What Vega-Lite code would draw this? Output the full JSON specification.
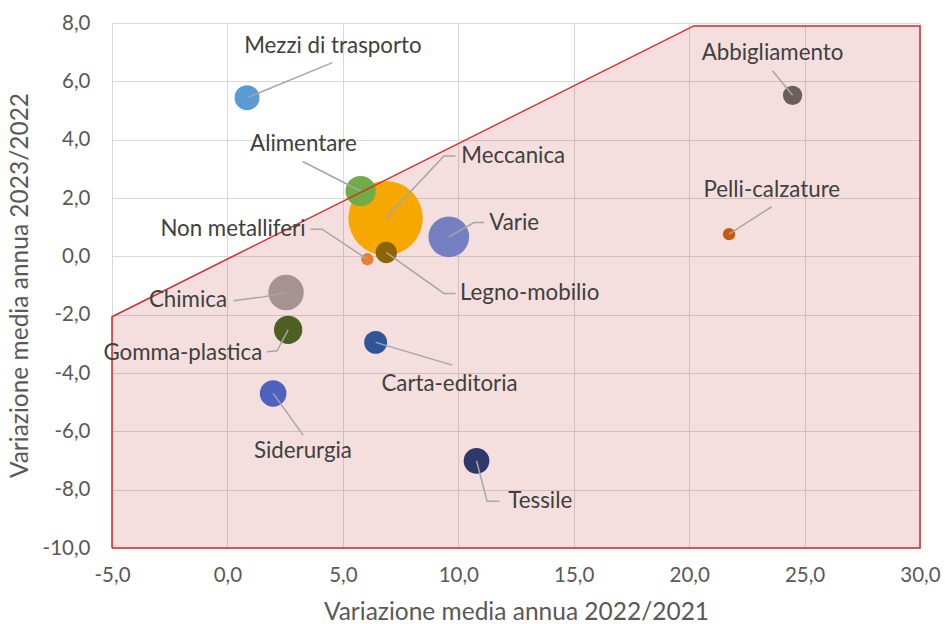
{
  "$schema": "https://vega.github.io/schema/vega-lite/v6.json",
  "width": 808,
  "height": 525,
  "autosize": {"type": "none"},
  "padding": {"left": 112, "top": 23, "right": 25, "bottom": 76},
  "background": "white",
  "config": {
    "locale": {"number": {"decimal": ",", "thousands": ".", "grouping": [3], "currency": ["€", ""], "minus": "-"}},
    "view": {"stroke": null},
    "font": "Lato",
    "axis": {
      "domain": false, "ticks": false, "tickSize": 0, "labelFlush": false,
      "gridColor": "#D9D9D9", "gridWidth": 1,
      "labelColor": "#595959", "labelFont": "Lato", "labelFontSize": 20.5,
      "titleColor": "#595959", "titleFont": "Lato", "titleFontSize": 24.5, "titleFontWeight": "normal"
    }
  },
  "datasets": {
    "zona": [
      {"x": -5, "y": -2.07},
      {"x": 20.2, "y": 7.9},
      {"x": 30, "y": 7.9}
    ],
    "bordo": [
      {"ordine": 1, "x": -5, "y": -10},
      {"ordine": 2, "x": -5, "y": -2.07},
      {"ordine": 3, "x": 20.2, "y": 7.9},
      {"ordine": 4, "x": 30, "y": 7.9},
      {"ordine": 5, "x": 30, "y": -10},
      {"ordine": 6, "x": -5, "y": -10}
    ],
    "settori": [
      {"nome": "Non metalliferi", "x": 6.06, "y": -0.10, "peso": 1.1},
      {"nome": "Meccanica", "x": 6.85, "y": 1.31, "peso": 40.1},
      {"nome": "Legno-mobilio", "x": 6.88, "y": 0.13, "peso": 3.3},
      {"nome": "Alimentare", "x": 5.77, "y": 2.24, "peso": 6.6},
      {"nome": "Mezzi di trasporto", "x": 0.85, "y": 5.44, "peso": 4.5},
      {"nome": "Abbigliamento", "x": 24.48, "y": 5.52, "peso": 2.7},
      {"nome": "Pelli-calzature", "x": 21.73, "y": 0.76, "peso": 1.1},
      {"nome": "Varie", "x": 9.59, "y": 0.67, "peso": 12.0},
      {"nome": "Chimica", "x": 2.54, "y": -1.24, "peso": 9.1},
      {"nome": "Gomma-plastica", "x": 2.63, "y": -2.52, "peso": 5.8},
      {"nome": "Carta-editoria", "x": 6.42, "y": -2.95, "peso": 3.8},
      {"nome": "Siderurgia", "x": 1.98, "y": -4.70, "peso": 5.1},
      {"nome": "Tessile", "x": 10.79, "y": -7.01, "peso": 4.8}
    ],
    "richiami": [
      {"nome": "Mezzi di trasporto", "seq": 1, "x": 0.85, "y": 5.44},
      {"nome": "Mezzi di trasporto", "seq": 2, "x": 4.55, "y": 6.64},
      {"nome": "Abbigliamento", "seq": 1, "x": 24.48, "y": 5.52},
      {"nome": "Abbigliamento", "seq": 2, "x": 23.61, "y": 6.36},
      {"nome": "Pelli-calzature", "seq": 1, "x": 21.73, "y": 0.76},
      {"nome": "Pelli-calzature", "seq": 2, "x": 23.57, "y": 1.70},
      {"nome": "Alimentare", "seq": 1, "x": 5.77, "y": 2.24},
      {"nome": "Alimentare", "seq": 2, "x": 3.26, "y": 3.25},
      {"nome": "Meccanica", "seq": 1, "x": 6.85, "y": 1.31},
      {"nome": "Meccanica", "seq": 2, "x": 9.38, "y": 3.44},
      {"nome": "Meccanica", "seq": 3, "x": 9.88, "y": 3.44},
      {"nome": "Varie", "seq": 1, "x": 9.59, "y": 0.67},
      {"nome": "Varie", "seq": 2, "x": 10.68, "y": 1.16},
      {"nome": "Varie", "seq": 3, "x": 11.11, "y": 1.16},
      {"nome": "Non metalliferi", "seq": 1, "x": 6.06, "y": -0.10},
      {"nome": "Non metalliferi", "seq": 2, "x": 4.1, "y": 0.93},
      {"nome": "Non metalliferi", "seq": 3, "x": 3.6, "y": 0.93},
      {"nome": "Legno-mobilio", "seq": 1, "x": 6.88, "y": 0.13},
      {"nome": "Legno-mobilio", "seq": 2, "x": 9.38, "y": -1.27},
      {"nome": "Legno-mobilio", "seq": 3, "x": 9.88, "y": -1.27},
      {"nome": "Chimica", "seq": 1, "x": 2.54, "y": -1.24},
      {"nome": "Chimica", "seq": 2, "x": 1.57, "y": -1.39},
      {"nome": "Chimica", "seq": 3, "x": 0.27, "y": -1.52},
      {"nome": "Gomma-plastica", "seq": 1, "x": 2.63, "y": -2.52},
      {"nome": "Gomma-plastica", "seq": 2, "x": 2.15, "y": -3.24},
      {"nome": "Gomma-plastica", "seq": 3, "x": 1.72, "y": -3.27},
      {"nome": "Carta-editoria", "seq": 1, "x": 6.42, "y": -2.95},
      {"nome": "Carta-editoria", "seq": 2, "x": 9.74, "y": -3.73},
      {"nome": "Siderurgia", "seq": 1, "x": 1.98, "y": -4.70},
      {"nome": "Siderurgia", "seq": 2, "x": 3.28, "y": -6.13},
      {"nome": "Tessile", "seq": 1, "x": 10.79, "y": -7.01},
      {"nome": "Tessile", "seq": 2, "x": 11.25, "y": -8.40},
      {"nome": "Tessile", "seq": 3, "x": 11.78, "y": -8.40}
    ],
    "etichette": [
      {"nome": "Mezzi di trasporto", "x": 4.57, "y": 7.21},
      {"nome": "Abbigliamento", "x": 23.61, "y": 6.98},
      {"nome": "Pelli-calzature", "x": 23.58, "y": 2.27},
      {"nome": "Alimentare", "x": 3.29, "y": 3.86},
      {"nome": "Meccanica", "x": 12.38, "y": 3.44},
      {"nome": "Varie", "x": 12.42, "y": 1.16},
      {"nome": "Non metalliferi", "x": 0.24, "y": 0.93},
      {"nome": "Legno-mobilio", "x": 13.09, "y": -1.27},
      {"nome": "Chimica", "x": -1.71, "y": -1.50},
      {"nome": "Gomma-plastica", "x": -1.93, "y": -3.30},
      {"nome": "Carta-editoria", "x": 9.62, "y": -4.38},
      {"nome": "Siderurgia", "x": 3.27, "y": -6.67},
      {"nome": "Tessile", "x": 13.55, "y": -8.40}
    ]
  },
  "layer": [
    {
      "data": {"name": "zona"},
      "mark": {"type": "area", "color": "#B00000", "opacity": 0.13, "interpolate": "linear"},
      "encoding": {
        "x": {"field": "x", "type": "quantitative",
              "scale": {"domain": [-5, 30], "nice": false, "zero": false},
              "axis": {"title": "Variazione media annua 2022/2021", "format": ".1f",
                       "values": [-5, 0, 5, 10, 15, 20, 25, 30], "labelPadding": 17,
                       "titleX": 404, "titleY": 64, "titleBaseline": "middle", "titleAlign": "center"}},
        "y": {"field": "y", "type": "quantitative",
              "scale": {"domain": [-10, 8], "nice": false, "zero": false},
              "axis": {"title": "Variazione media annua 2023/2022", "format": ".1f",
                       "values": [-10, -8, -6, -4, -2, 0, 2, 4, 6, 8], "labelPadding": 22,
                       "titleX": -92, "titleY": 262, "titleBaseline": "middle", "titleAlign": "center", "titleAngle": -90}},
        "y2": {"datum": -10}
      }
    },
    {
      "mark": {"type": "rule", "color": "#000000", "strokeWidth": 3},
      "encoding": {"x": {"datum": 0, "type": "quantitative"}}
    },
    {
      "mark": {"type": "rule", "color": "#000000", "strokeWidth": 3},
      "encoding": {"y": {"datum": 0, "type": "quantitative"}}
    },
    {
      "data": {"name": "settori"},
      "mark": {"type": "circle", "opacity": 1},
      "encoding": {
        "x": {"field": "x", "type": "quantitative"},
        "y": {"field": "y", "type": "quantitative"},
        "size": {"field": "peso", "type": "quantitative", "scale": {"domain": [0, 40.1], "range": [0, 5542], "zero": true}, "legend": null},
        "color": {"field": "nome", "type": "nominal", "legend": null,
                  "scale": {"domain": ["Non metalliferi", "Meccanica", "Legno-mobilio", "Alimentare", "Mezzi di trasporto", "Abbigliamento", "Pelli-calzature", "Varie", "Chimica", "Gomma-plastica", "Carta-editoria", "Siderurgia", "Tessile"],
                            "range": ["#ED7D31", "#F6A800", "#8C6400", "#70AD47", "#5B9BD5", "#6D5E5E", "#C55A11", "#7480C2", "#A69391", "#4E5F22", "#2F5597", "#4D62BC", "#2E386A"]}}
      }
    },
    {
      "data": {"name": "richiami"},
      "mark": {"type": "line", "color": "#A6A6A6", "strokeWidth": 1.5, "interpolate": "linear"},
      "encoding": {
        "x": {"field": "x", "type": "quantitative"},
        "y": {"field": "y", "type": "quantitative"},
        "detail": {"field": "nome", "type": "nominal"},
        "order": {"field": "seq", "type": "quantitative"}
      }
    },
    {
      "data": {"name": "bordo"},
      "mark": {"type": "line", "color": "#D42A2A", "strokeWidth": 1.5, "interpolate": "linear"},
      "encoding": {
        "x": {"field": "x", "type": "quantitative"},
        "y": {"field": "y", "type": "quantitative"},
        "order": {"field": "ordine", "type": "quantitative"}
      }
    },
    {
      "data": {"name": "etichette"},
      "mark": {"type": "text", "font": "Lato", "fontSize": 22.3, "color": "#404040", "align": "center", "baseline": "middle"},
      "encoding": {
        "x": {"field": "x", "type": "quantitative"},
        "y": {"field": "y", "type": "quantitative"},
        "text": {"field": "nome", "type": "nominal"}
      }
    }
  ]
}
